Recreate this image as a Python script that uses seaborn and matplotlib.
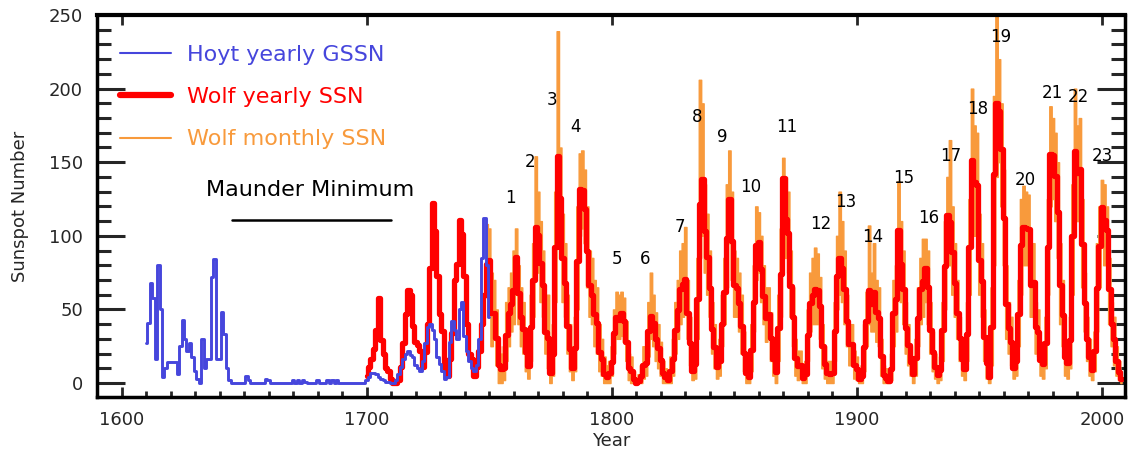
import numpy as np
import pandas as pd
import matplotlib
matplotlib.use("Agg")
import matplotlib.pyplot as plt
from matplotlib.ticker import MultipleLocator
from matplotlib.lines import Line2D
import seaborn as sns

# ---------------- data ----------------
hoyt_years = list(range(1610, 1751))
hoyt_gssn = [
    27, 41, 68, 58, 16, 80, 50, 4, 10, 14,          # 1610-1619
    14, 14, 14, 6, 25, 43, 30, 22, 27, 18,          # 1620-1629
    8, 3, 0, 30, 10, 16, 16, 72, 84, 16,            # 1630-1639
    16, 48, 33, 10, 2, 0, 0, 0, 0, 0,               # 1640-1649
    0, 5, 2, 0, 0, 0, 0, 0, 0, 3,                   # 1650-1659
    2, 0, 0, 0, 0, 0, 0, 0, 0, 0,                   # 1660-1669
    2, 0, 2, 0, 2, 1, 0, 0, 0, 0,                   # 1670-1679
    2, 0, 0, 0, 2, 0, 2, 0, 2, 0,                   # 1680-1689
    0, 0, 0, 0, 0, 0, 0, 0, 0, 0,                   # 1690-1699
    2, 4, 7, 7, 6, 4, 3, 2, 1, 1,                   # 1700-1709
    0, 0, 2, 6, 11, 16, 20, 22, 19, 18,             # 1710-1719
    12, 10, 8, 15, 27, 38, 40, 36, 30, 18,          # 1720-1729
    13, 8, 3, 4, 28, 42, 36, 30, 50, 55,            # 1730-1739
    32, 22, 15, 10, 8, 12, 30, 85, 112, 80,         # 1740-1749
    45,                                             # 1750
]

wolf_years = list(range(1700, 2009))
wolf_ssn = [
    5.0, 11.0, 16.0, 23.0, 36.0, 58.0, 29.0, 20.0, 10.0, 8.0,
    3.0, 0.0, 0.0, 2.0, 11.0, 27.0, 47.0, 63.0, 60.0, 39.0,
    28.0, 26.0, 22.0, 11.0, 21.0, 40.0, 78.0, 122.0, 103.0, 73.0,
    47.0, 35.0, 11.0, 5.0, 16.0, 34.0, 70.0, 81.0, 111.0, 101.0,
    73.0, 40.0, 20.0, 16.0, 5.0, 11.0, 22.0, 40.0, 60.0, 80.9,
    83.4, 47.7, 47.8, 30.7, 12.2, 9.6, 10.2, 32.4, 47.6, 54.0,
    62.9, 85.9, 61.2, 45.1, 36.4, 20.9, 11.4, 37.8, 69.8, 106.1,
    100.8, 81.6, 66.5, 34.8, 30.6, 7.0, 19.8, 92.5, 154.4, 125.9,
    84.8, 68.1, 38.5, 22.8, 10.2, 24.1, 82.9, 132.0, 130.9, 118.1,
    89.9, 66.6, 60.0, 46.9, 41.0, 21.3, 16.0, 6.4, 4.1, 6.8,
    14.5, 34.0, 45.0, 43.1, 47.5, 42.2, 28.1, 10.1, 8.1, 2.5,
    0.0, 1.4, 5.0, 12.2, 13.9, 35.4, 45.8, 41.0, 30.1, 23.9,
    15.6, 6.6, 4.0, 1.8, 8.5, 16.6, 36.3, 49.6, 64.2, 67.0,
    70.9, 47.8, 27.5, 8.5, 13.2, 56.9, 121.5, 138.3, 103.2, 85.7,
    64.6, 36.7, 24.2, 10.7, 15.0, 40.1, 61.5, 98.5, 124.7, 96.3,
    66.6, 64.5, 54.1, 39.0, 20.6, 6.7, 4.3, 22.7, 54.8, 93.8,
    95.8, 77.2, 59.1, 44.0, 47.0, 30.5, 16.3, 7.3, 37.6, 74.0,
    139.0, 111.2, 101.6, 66.2, 44.7, 17.0, 11.3, 12.4, 3.4, 6.0,
    32.3, 54.3, 59.7, 63.7, 63.5, 52.2, 25.4, 13.1, 6.8, 6.3,
    7.1, 35.6, 73.0, 85.1, 78.0, 64.0, 41.8, 26.2, 26.7, 12.1,
    9.5, 2.7, 5.0, 24.4, 42.0, 63.5, 53.8, 62.0, 48.5, 43.9,
    18.6, 5.7, 3.6, 1.4, 9.6, 47.4, 57.1, 103.9, 80.6, 63.6,
    37.6, 26.1, 14.2, 5.8, 16.7, 44.3, 63.9, 69.0, 77.8, 64.9,
    35.7, 21.2, 11.1, 5.7, 8.7, 36.1, 79.7, 114.4, 109.6, 88.8,
    67.8, 47.5, 30.6, 16.3, 9.6, 33.2, 92.6, 151.6, 136.3, 134.7,
    83.9, 69.4, 31.5, 13.9, 4.4, 38.0, 141.7, 190.2, 184.8, 159.0,
    112.3, 53.9, 37.6, 27.9, 10.2, 15.1, 47.0, 93.8, 105.9, 105.5,
    104.5, 66.6, 68.9, 38.0, 34.5, 15.5, 12.6, 27.5, 92.5, 155.4,
    154.6, 140.4, 115.9, 66.6, 45.9, 17.9, 13.4, 29.4, 100.2, 157.6,
    142.6, 145.7, 94.3, 54.6, 29.9, 17.5, 8.6, 21.5, 64.3, 93.3,
    119.6, 111.0, 104.0, 63.7, 40.4, 29.8, 15.2, 7.5, 2.9,
]

# yearly range of the monthly Wolf numbers (highest / lowest month of each year)
monthly_years = list(range(1749, 2009))
monthly_max = [
    108, 105, 75, 70, 50, 25, 20, 25, 55, 65,
    75, 90, 105, 80, 65, 55, 35, 20, 60, 95,
    154, 130, 110, 90, 55, 60, 20, 40, 130, 239,
    160, 115, 95, 60, 40, 25, 45, 120, 156, 158,
    145, 120, 90, 85, 70, 65, 40, 30, 18, 12,
    15, 25, 50, 62, 60, 62, 58, 42, 20, 18,
    8, 2, 6, 12, 25, 25, 55, 75, 60, 48,
    40, 28, 15, 10, 6, 18, 30, 55, 70, 90,
    95, 106, 70, 45, 18, 25, 85, 206, 190, 135,
    115, 90, 55, 40, 20, 30, 60, 85, 135, 158,
    130, 90, 85, 75, 60, 35, 15, 12, 40, 80,
    120, 116, 100, 80, 65, 65, 48, 28, 15, 60,
    105, 153, 140, 130, 90, 65, 30, 22, 22, 10,
    15, 50, 75, 85, 92, 88, 72, 40, 25, 15,
    15, 15, 55, 100, 130, 110, 90, 60, 40, 40,
    22, 18, 8, 12, 40, 62, 107, 75, 95, 70,
    65, 30, 12, 10, 6, 20, 70, 80, 137, 110,
    90, 55, 40, 25, 12, 30, 65, 85, 98, 98,
    90, 55, 35, 20, 12, 18, 55, 110, 140, 165,
    120, 95, 70, 45, 28, 18, 55, 125, 200, 175,
    170, 115, 95, 50, 25, 12, 65, 195, 249, 220,
    190, 145, 80, 55, 45, 20, 25, 70, 125, 134,
    130, 128, 90, 95, 55, 50, 28, 22, 45, 125,
    188, 180, 170, 150, 95, 70, 30, 25, 45, 135,
    200, 175, 180, 125, 75, 45, 30, 15, 35, 95,
    120, 138, 135, 120, 85, 55, 45, 25, 15, 8,
]
monthly_min = [
    58, 60, 25, 30, 12, 0, 0, 2, 15, 25,
    35, 40, 60, 40, 25, 20, 8, 3, 15, 45,
    75, 75, 55, 45, 20, 10, 0, 5, 55, 110,
    95, 55, 45, 20, 8, 2, 8, 50, 100, 105,
    95, 65, 45, 40, 25, 20, 8, 5, 0, 0,
    0, 5, 20, 30, 30, 32, 28, 15, 2, 0,
    0, 0, 0, 0, 3, 5, 18, 30, 25, 15,
    10, 5, 0, 0, 0, 0, 5, 20, 30, 40,
    45, 50, 30, 12, 2, 3, 30, 85, 100, 75,
    60, 45, 20, 10, 3, 5, 25, 40, 65, 95,
    70, 45, 45, 35, 20, 8, 0, 0, 8, 35,
    70, 75, 55, 40, 28, 30, 15, 5, 0, 15,
    45, 115, 85, 75, 45, 25, 5, 2, 3, 0,
    0, 15, 35, 40, 40, 40, 30, 10, 3, 0,
    0, 0, 15, 50, 60, 55, 40, 25, 12, 12,
    3, 2, 0, 0, 8, 25, 40, 35, 35, 28,
    25, 5, 0, 0, 0, 2, 25, 35, 75, 55,
    40, 20, 12, 5, 0, 5, 25, 40, 45, 55,
    40, 20, 8, 3, 0, 2, 15, 50, 85, 80,
    60, 45, 30, 15, 5, 2, 15, 60, 115, 100,
    100, 60, 45, 15, 3, 0, 12, 80, 140, 150,
    120, 80, 30, 20, 12, 3, 5, 25, 60, 80,
    80, 80, 45, 45, 20, 18, 5, 3, 10, 60,
    120, 125, 110, 85, 40, 25, 5, 3, 10, 60,
    125, 110, 110, 65, 35, 15, 5, 2, 8, 35,
    65, 95, 80, 80, 40, 25, 12, 5, 2, 0,
]

cycle_labels = [str(i) for i in range(1, 24)]
cycle_x = [1758.6, 1766.7, 1775.7, 1785.1, 1802.2, 1813.7, 1827.6, 1834.9, 1845.1,
           1856.5, 1871.6, 1885.1, 1895.3, 1906.3, 1919.0, 1929.2, 1938.2, 1949.2,
           1958.6, 1968.8, 1979.8, 1990.4, 2000.2]
cycle_y = [126, 150, 192, 174, 84, 84, 106, 181, 167, 133, 174, 108, 123, 99,
           139, 112, 154, 186, 235, 138, 197, 194, 154]

series_labels = ["Hoyt yearly GSSN", "Wolf yearly SSN", "Wolf monthly SSN"]

# ---------------- style ----------------
BLUE = "#4646dc"
RED = "#ff0000"
ORANGE = "#f89a3c"

sns.set_style("ticks")
plt.rcParams["font.family"] = ["DejaVu Sans"]

fig = plt.figure(figsize=(11.32, 4.51), dpi=100)
ax = fig.add_axes([97 / 1132, 1 - 397 / 451, (1125 - 97) / 1132, (397 - 15) / 451])

hoyt_df = pd.DataFrame({"Year": hoyt_years, "SSN": hoyt_gssn})
wolf_df = pd.DataFrame({"Year": wolf_years, "SSN": wolf_ssn})
mon_df = pd.DataFrame({"Year": monthly_years, "max": monthly_max, "min": monthly_min})

# monthly (range per year) band
ax.fill_between(mon_df["Year"], mon_df["min"], mon_df["max"], step="mid",
                color=ORANGE, edgecolor=ORANGE, lw=1.0, zorder=1)
sns.lineplot(data=wolf_df, x="Year", y="SSN", ax=ax, color=RED, lw=3.8,
             drawstyle="steps-mid", estimator=None, zorder=2, legend=False)
sns.lineplot(data=hoyt_df, x="Year", y="SSN", ax=ax, color=BLUE, lw=2.1,
             drawstyle="steps-mid", estimator=None, zorder=3, legend=False)

# Maunder Minimum annotation
ax.plot([1645, 1710], [111, 111], color="black", lw=1.8, zorder=4)
ax.text(1677, 131, "Maunder Minimum", ha="center", va="center", fontsize=16,
        color="black")

for lab, cx, cy in zip(cycle_labels, cycle_x, cycle_y):
    ax.text(cx, cy, lab, ha="center", va="center", fontsize=12, color="black",
            zorder=5)

ax.set_xlim(1590, 2009.4)
ax.set_ylim(-9.5, 250)

ax.xaxis.set_major_locator(MultipleLocator(100))
ax.xaxis.set_minor_locator(MultipleLocator(10))
ax.yaxis.set_major_locator(MultipleLocator(50))
ax.yaxis.set_minor_locator(MultipleLocator(10))

ax.tick_params(axis="x", which="major", direction="in", length=7, width=2,
               top=True, bottom=True, labelsize=13, pad=10)
ax.tick_params(axis="x", which="minor", direction="in", length=4, width=2,
               top=False, bottom=True)
ax.tick_params(axis="y", which="major", direction="in", length=20, width=2.2,
               left=True, right=True, labelsize=13, pad=10)
ax.tick_params(axis="y", which="minor", direction="in", length=10, width=2.2,
               left=True, right=True)

for name, s in ax.spines.items():
    s.set_linewidth(3.0 if name == "top" else 2.5)
    s.set_color("black")

ax.set_xlabel("Year", fontsize=13, labelpad=2)
ax.set_ylabel("Sunspot Number", fontsize=13, labelpad=14)

handles = [Line2D([], [], color=BLUE, lw=1.5),
           Line2D([], [], color=RED, lw=4.5),
           Line2D([], [], color=ORANGE, lw=1.5)]
leg = ax.legend(handles, series_labels, loc="upper left",
                bbox_to_anchor=((120 - 97) / 1028, (397 - 45) / 382),
                frameon=False, fontsize=16, handlelength=2.3, handletextpad=0.7,
                labelspacing=1.0, borderpad=0, borderaxespad=0,
                labelcolor=[BLUE, RED, ORANGE])

fig.savefig("out.png", dpi=100)
